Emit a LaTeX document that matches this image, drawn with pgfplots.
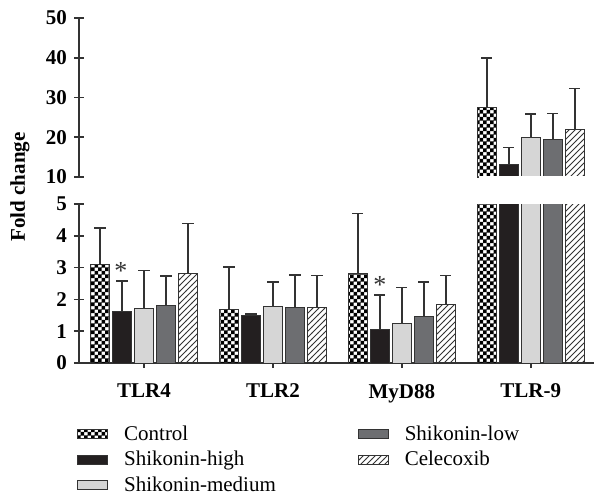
\documentclass[border=0pt]{standalone}
\usepackage{fontspec}
\setmainfont{Liberation Serif}
\usepackage{pgfplots}
\pgfplotsset{compat=1.18}
\usepackage{pgfplotstable}
\usetikzlibrary{patterns}
\definecolor{axgray}{HTML}{333333}
\definecolor{highc}{HTML}{231F20}
\definecolor{medc}{HTML}{D6D6D6}
\definecolor{lowc}{HTML}{6D6E71}

\pgfdeclarepatternformonly{smallcheck}{\pgfpointorigin}{\pgfqpoint{3.6pt}{3.6pt}}{\pgfqpoint{3.5pt}{3.5pt}}%
{\pgfpathrectangle{\pgfpointorigin}{\pgfqpoint{1.8pt}{1.8pt}}%
 \pgfpathrectangle{\pgfqpoint{1.75pt}{1.75pt}}{\pgfqpoint{1.8pt}{1.8pt}}\pgfusepath{fill}}

\pgfplotstableread{
x ctrl ctrlE high highE med medE low lowE cel celE
0 3.11 1.14 1.61 0.96 1.72 1.19 1.80 0.94 2.81 1.58
1 1.69 1.33 1.50 0.05 1.78 0.77 1.76 1.00 1.76 0.99
2 2.81 1.89 1.04 1.09 1.25 1.13 1.45 1.09 1.84 0.91
3 27.5 12.5 13.1 4.3 20.0 5.8 19.5 6.5 21.9 10.4
}\data
\pgfplotstableread{
x ctrl ctrlE high highE med medE low lowE cel celE
3 27.5 12.5 13.1 4.3 20.0 5.8 19.5 6.5 21.9 10.4
}\dataup

\pgfplotsset{
  barbase/.style={draw=axgray, line width=0.5pt, forget plot,
    error bars/.cd, y dir=plus, y explicit,
    error bar style={line width=0.8pt, draw=axgray},
    error mark options={rotate=90, line width=0.8pt, draw=axgray, mark size=2.8pt}},
  common/.style={width=257.5pt, height=79.5pt, scale only axis,
    xmin=-0.504, xmax=3.49, ybar, bar width=9.6pt,
    tick style={line width=0.8pt, draw=axgray},
    tick align=outside, major tick length=5pt,
    ticklabel style={font=\fontsize{10.5}{12}\selectfont\bfseries},
    /pgf/number format/assume math mode=true,
    enlargelimits=false},
  noarrows/.style={axis line style={line width=0.8pt, draw=axgray, -},
    x axis line style={-}, y axis line style={-}},
}
\newcommand{\allbars}[1]{%
  \addplot[pattern=smallcheck, pattern color=black, bar shift=-22pt, barbase] table[x=x,y=ctrl,y error=ctrlE]{#1};
  \addplot[fill=highc, bar shift=-11pt, barbase] table[x=x,y=high,y error=highE]{#1};
  \addplot[fill=medc, bar shift=0pt, barbase] table[x=x,y=med,y error=medE]{#1};
  \addplot[fill=lowc, bar shift=11pt, barbase] table[x=x,y=low,y error=lowE]{#1};
  \addplot[pattern=north east lines, pattern color=axgray, bar shift=22pt, barbase] table[x=x,y=cel,y error=celE]{#1};
}

\begin{document}
\begin{tikzpicture}
\path[use as bounding box] (0,0) rectangle (297pt,247.5pt);

% upper axis
\begin{axis}[common, at={(39.5pt,159pt)}, anchor=south west,
  ymin=10, ymax=50, ytick={10,20,30,40,50},
  axis y line=left, axis x line=none, noarrows]
\allbars{\dataup}
\draw[white, line width=1.2pt] (axis cs:2.6,10) -- (axis cs:3.49,10);
\end{axis}

% lower axis
\begin{axis}[common, at={(39.5pt,66pt)}, anchor=south west,
  ymin=0, ymax=5, ytick={0,1,2,3,4,5},
  axis y line=left, axis x line=bottom, noarrows,
  xtick={0,1,2,3}, xticklabels={TLR4,TLR2,MyD88,TLR-9},
  xticklabel style={yshift=-4.5pt},
  legend style={draw=none, fill=none, at={(axis description cs:-0.016,-0.34)}, anchor=north west,
    font=\fontsize{10.5}{12}\selectfont, row sep=0pt,
    /tikz/column 1/.style={column sep=6pt},
    /tikz/column 2/.style={column sep=39pt},
    /tikz/column 3/.style={column sep=6pt}},
  legend columns=2, legend cell align=left,
  legend image code/.code={\draw[#1, line width=0.5pt] (0pt,-2.2pt) rectangle (15pt,2.2pt);}]
\allbars{\data}
\node[font=\fontsize{13}{13}\selectfont, text=axgray] at (axis cs:-0.18,2.9) {*};
\node[font=\fontsize{13}{13}\selectfont, text=axgray] at (axis cs:1.83,2.45) {*};
\addlegendimage{draw=axgray, pattern=smallcheck, pattern color=black}
\addlegendentry{Control}
\addlegendimage{draw=axgray, fill=lowc}
\addlegendentry{Shikonin-low}
\addlegendimage{draw=axgray, fill=highc}
\addlegendentry{Shikonin-high}
\addlegendimage{draw=axgray, pattern=north east lines, pattern color=axgray}
\addlegendentry{Celecoxib}
\addlegendimage{draw=axgray, fill=medc}
\addlegendentry{Shikonin-medium}
\end{axis}

\node[rotate=90, font=\fontsize{10.5}{12}\selectfont\bfseries] at (10pt,154pt) {Fold change};
\end{tikzpicture}
\end{document}
